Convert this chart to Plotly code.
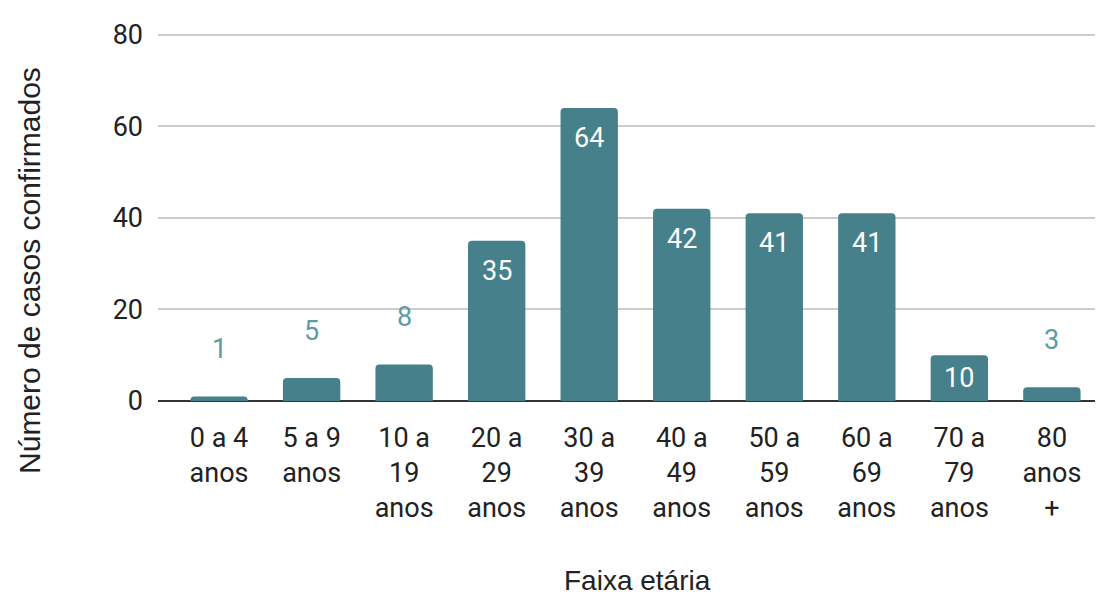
import plotly.graph_objects as go

categorias = ["0 a 4<br>anos", "5 a 9<br>anos", "10 a<br>19<br>anos", "20 a<br>29<br>anos",
              "30 a<br>39<br>anos", "40 a<br>49<br>anos", "50 a<br>59<br>anos", "60 a<br>69<br>anos",
              "70 a<br>79<br>anos", "80<br>anos<br>+"]
casos = [1, 5, 8, 35, 64, 42, 41, 41, 10, 3]
y_ticks = [0, 20, 40, 60, 80]
titulo_x = "Faixa etária"
titulo_y = "Número de casos confirmados"

bar_color = "#45808b"
label_out_color = "#5d9ba7"

fig = go.Figure()
fig.add_trace(go.Bar(
    x=list(range(len(categorias))), y=casos, marker_color=bar_color,
    width=0.62, marker_line_width=0,
))

px_per_unit = 368 / 80
for i, v in enumerate(casos):
    if v >= 10:
        fig.add_annotation(x=i, y=v, text=str(v), showarrow=False, yanchor="middle",
                           yshift=-min(30, v * px_per_unit / 2),
                           font=dict(family="Roboto", size=27, color="white"))
    else:
        fig.add_annotation(x=i, y=v, text=str(v), showarrow=False, yanchor="middle",
                           yshift=47,
                           font=dict(family="Roboto", size=27, color=label_out_color))

fig.add_annotation(xref="paper", yref="paper", x=0.5085, y=-0.489, text=titulo_x,
                   showarrow=False, xanchor="center", yanchor="middle", borderpad=0,
                   font=dict(family="Liberation Sans", size=28, color="#222"))
fig.add_annotation(xref="paper", yref="paper", x=-0.1359, y=0.356, text=titulo_y,
                   showarrow=False, xanchor="center", yanchor="middle", textangle=-90,
                   font=dict(family="Liberation Sans", size=30, color="#222"))

fig.update_layout(
    width=1095, height=589,
    margin=dict(l=150, r=3, t=25, b=196),
    paper_bgcolor="white", plot_bgcolor="white",
    barcornerradius=4,
    showlegend=False,
    font=dict(family="Roboto", size=27, color="#222"),
)
fig.update_xaxes(
    tickmode="array", tickvals=list(range(len(categorias))), ticktext=categorias,
    range=[-0.66, 9.52], showgrid=False, ticks="", showline=False, automargin=False,
    tickfont=dict(family="Roboto", size=27, color="#222"), ticklabelstandoff=18,
)
fig.update_yaxes(
    range=[0, 80.4], tickvals=y_ticks, showgrid=True, gridcolor="#cccccc", gridwidth=1.5,
    zeroline=True, zerolinecolor="#333333", zerolinewidth=2, automargin=False,
    tickfont=dict(family="Roboto", size=27, color="#222"), ticklabelstandoff=14,
)
fig.write_html("out.html")
